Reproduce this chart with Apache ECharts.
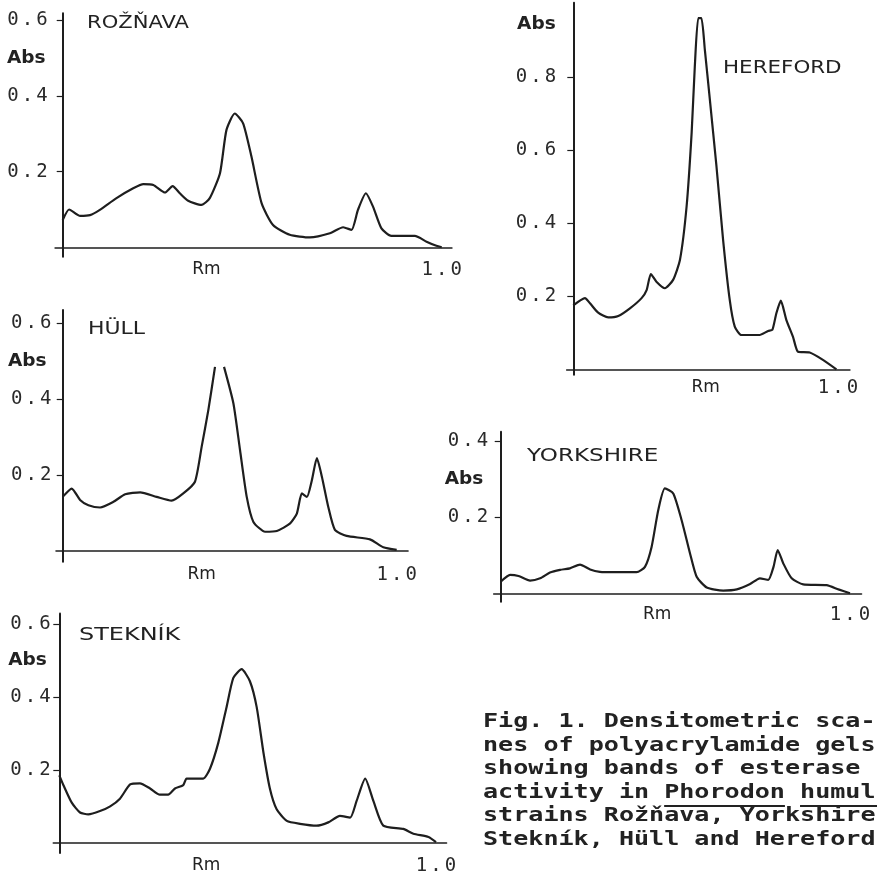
<!DOCTYPE html>
<html>
<head>
<meta charset="utf-8">
<script src="https://cdn.jsdelivr.net/npm/echarts@6/dist/echarts.min.js"></script>
<style>html,body{margin:0;padding:0;background:#fff}#c{width:877px;height:876px}</style>
</head>
<body>
<div id="c"></div>
<script>
// ---- data (Rm, Abs) ----
const strainNames = ['ROŽŇAVA', 'HÜLL', 'STEKNÍK', 'HEREFORD', 'YORKSHIRE'];

const rozRm = [0, 0.017, 0.046, 0.072, 0.098, 0.142, 0.186, 0.213, 0.239, 0.270, 0.290, 0.309, 0.331, 0.366, 0.388, 0.415, 0.432, 0.454, 0.476, 0.498, 0.525, 0.555, 0.599, 0.652, 0.705, 0.740, 0.762, 0.779, 0.800, 0.819, 0.841, 0.867, 0.929, 0.960, 0.986, 1.0];
const rozAbs = [0.072, 0.100, 0.083, 0.085, 0.099, 0.130, 0.156, 0.167, 0.165, 0.145, 0.162, 0.143, 0.123, 0.112, 0.130, 0.196, 0.310, 0.354, 0.328, 0.240, 0.116, 0.059, 0.033, 0.026, 0.037, 0.053, 0.046, 0.099, 0.143, 0.107, 0.050, 0.030, 0.030, 0.015, 0.004, 0.0];

const hullRm = [0, 0.027, 0.052, 0.077, 0.112, 0.152, 0.187, 0.232, 0.281, 0.326, 0.361, 0.396, 0.416, 0.436, 0.456, 0.470, 0.483, 0.511, 0.531, 0.551, 0.571, 0.606, 0.641, 0.681, 0.701, 0.716, 0.731, 0.746, 0.761, 0.776, 0.795, 0.815, 0.850, 0.920, 0.960, 1.0];
const hullAbs = [0.142, 0.164, 0.134, 0.120, 0.114, 0.129, 0.149, 0.154, 0.142, 0.132, 0.151, 0.182, 0.274, 0.371, 0.485, null, 0.485, 0.389, 0.265, 0.142, 0.076, 0.050, 0.052, 0.072, 0.098, 0.151, 0.142, 0.186, 0.244, 0.195, 0.116, 0.055, 0.039, 0.030, 0.009, 0.002];

const stekRm = [0, 0.011, 0.033, 0.055, 0.077, 0.108, 0.135, 0.161, 0.188, 0.214, 0.241, 0.267, 0.289, 0.307, 0.329, 0.338, 0.382, 0.400, 0.422, 0.444, 0.462, 0.484, 0.506, 0.524, 0.542, 0.559, 0.577, 0.604, 0.639, 0.683, 0.714, 0.745, 0.772, 0.789, 0.812, 0.834, 0.860, 0.913, 0.940, 0.980, 1.0];
const stekAbs = [0.185, 0.158, 0.110, 0.083, 0.078, 0.087, 0.100, 0.121, 0.160, 0.163, 0.149, 0.132, 0.132, 0.149, 0.158, 0.176, 0.176, 0.203, 0.274, 0.372, 0.452, 0.476, 0.443, 0.372, 0.247, 0.149, 0.092, 0.060, 0.052, 0.047, 0.056, 0.074, 0.069, 0.114, 0.176, 0.114, 0.047, 0.038, 0.025, 0.016, 0.002];

const herRm = [0, 0.044, 0.063, 0.094, 0.132, 0.170, 0.214, 0.258, 0.277, 0.293, 0.314, 0.346, 0.377, 0.403, 0.428, 0.447, 0.459, 0.472, 0.484, 0.497, 0.516, 0.541, 0.566, 0.591, 0.610, 0.635, 0.679, 0.704, 0.736, 0.752, 0.767, 0.784, 0.805, 0.830, 0.849, 0.893, 0.943, 0.994];
const herAbs = [0.175, 0.195, 0.181, 0.155, 0.142, 0.146, 0.167, 0.195, 0.217, 0.261, 0.240, 0.222, 0.245, 0.300, 0.446, 0.647, 0.829, 0.962, 0.962, 0.875, 0.738, 0.555, 0.354, 0.190, 0.117, 0.094, 0.094, 0.094, 0.105, 0.108, 0.153, 0.188, 0.135, 0.089, 0.048, 0.046, 0.026, 0.0];

const yorkRm = [0, 0.027, 0.051, 0.084, 0.113, 0.141, 0.170, 0.198, 0.227, 0.256, 0.284, 0.323, 0.389, 0.413, 0.432, 0.451, 0.470, 0.494, 0.518, 0.542, 0.561, 0.590, 0.637, 0.676, 0.714, 0.742, 0.766, 0.781, 0.793, 0.809, 0.833, 0.866, 0.933, 0.967, 1.0];
const yorkAbs = [0.032, 0.050, 0.047, 0.035, 0.041, 0.056, 0.063, 0.067, 0.077, 0.064, 0.058, 0.057, 0.057, 0.071, 0.123, 0.219, 0.276, 0.263, 0.193, 0.106, 0.045, 0.017, 0.009, 0.012, 0.026, 0.041, 0.037, 0.071, 0.115, 0.080, 0.041, 0.025, 0.023, 0.012, 0.002];

// tick labels
const yTicks = [[0.2, 0.4, 0.6], [0.2, 0.4, 0.6], [0.2, 0.4, 0.6], [0.2, 0.4, 0.6, 0.8], [0.2, 0.4]];
const absLabelAt = [0.5, 0.5, 0.5, 0.945, 0.3];
const rmLabelAt = [0.379, 0.416, 0.39, 0.5, 0.448];
const xEndLabel = 1.0;

const captionLines = [
  'Fig. 1. Densitometric sca-',
  'nes of polyacrylamide gels',
  'showing bands of esterase',
  'activity in Phorodon humuli',
  'strains Rožňava, Yorkshire,',
  'Stekník, Hüll and Hereford.'
];

// ---- layout (pixels) ----
const panels = [
  {ox: 62.7, oy: 247.3, sx: 379, sy: 378, xmin: -0.02, xmax: 1.027, ymin: -0.025, ymax: 0.619, tx: 87, ty: 14, ts: 1.17, lm: 6, ap: 3.5},
  {ox: 62.7, oy: 550.7, sx: 334, sy: 379, xmin: -0.02, xmax: 1.034, ymin: -0.029, ymax: 0.635, tx: 88, ty: 320, ts: 1.22, lm: 3, ap: 6.5},
  {ox: 59.3, oy: 849.3, sx: 376.7, sy: 375, xmin: -0.016, xmax: 1.028, ymin: -0.028, ymax: 0.629, tx: 79, ty: 626, ts: 1.33, lm: 1, ap: 5.5},
  {ox: 573.3, oy: 369.3, sx: 264.7, sy: 365, xmin: -0.025, xmax: 1.045, ymin: -0.015, ymax: 1.004, tx: 723, ty: 59, ts: 1.19, lm: 9, ap: 2},
  {ox: 500.7, oy: 594, sx: 349.3, sy: 382.5, xmin: -0.02, xmax: 1.033, ymin: -0.02, ymax: 0.424, tx: 527, ty: 447, ts: 1.28, lm: 4, ap: 6.5}
];
const seriesData = [[rozRm, rozAbs], [hullRm, hullAbs], [stekRm, stekAbs], [herRm, herAbs], [yorkRm, yorkAbs]];

const INK = '#1e1e1e';
const MONO = '"DejaVu Sans Mono", "Liberation Mono", monospace';
const SANS = '"DejaVu Sans", "Liberation Sans", sans-serif';

// typewriter-like wide pitch for the numeric tick labels
const spaced = s => s.split('').map(c => '{d|' + c + '}').join('');
const digitRich = {d: {fontFamily: MONO, fontSize: 19, color: '#2a2a2a', width: 14.5, align: 'center'}};

const grids = [], xAxes = [], yAxes = [], series = [], graphics = [];

panels.forEach((p, i) => {
  grids.push({
    left: p.ox + p.xmin * p.sx,
    width: (p.xmax - p.xmin) * p.sx,
    top: p.oy - p.ymax * p.sy,
    height: (p.ymax - p.ymin) * p.sy
  });
  const rmv = rmLabelAt[i];
  xAxes.push({
    type: 'value', gridIndex: i, min: p.xmin, max: p.xmax,
    axisLine: {onZero: true, lineStyle: {color: INK, width: 1.6}},
    axisTick: {show: false},
    splitLine: {show: false},
    axisLabel: {
      customValues: [rmv, xEndLabel],
      margin: 4,
      formatter: v => Math.abs(v - xEndLabel) < 1e-6 ? spaced('1.0') : '{rm|Rm}',
      rich: Object.assign({rm: {fontFamily: SANS, fontSize: 17, color: '#222'}}, digitRich)
    }
  });
  const av = absLabelAt[i];
  yAxes.push({
    type: 'value', gridIndex: i, min: p.ymin, max: p.ymax,
    axisLine: {onZero: true, lineStyle: {color: INK, width: 2}},
    axisTick: {customValues: yTicks[i], length: 6, lineStyle: {color: INK, width: 1.2}},
    splitLine: {show: false},
    axisLabel: {
      customValues: yTicks[i].concat([av]),
      margin: p.lm,
      formatter: v => Math.abs(v - av) < 1e-6 ? '{abs|Abs}' : spaced(v.toFixed(1)),
      rich: Object.assign({abs: {fontFamily: SANS, fontSize: 18.5, fontWeight: 'bold', color: '#222', padding: [0, p.ap, 0, 0]}}, digitRich)
    }
  });
  const xs = seriesData[i][0], ys = seriesData[i][1];
  series.push({
    type: 'line', xAxisIndex: i, yAxisIndex: i,
    data: xs.map((x, k) => [x, ys[k]]),
    showSymbol: false, smooth: 0.2, connectNulls: false,
    lineStyle: {color: INK, width: 2.2},
    silent: true, animation: false
  });
  graphics.push({
    type: 'text', x: p.tx, y: p.ty, scaleX: p.ts,
    style: {text: strainNames[i], fontFamily: SANS, fontSize: 18, fill: '#222', verticalAlign: 'top'}
  });
});

// caption
const capX = 483, capFs = 19.5, capScale = 1.286, capLine = 23.5, capBase0 = 729;
const charW = 0.602 * capFs * capScale;
captionLines.forEach((t, k) => {
  graphics.push({
    type: 'text', x: capX, y: capBase0 + k * capLine - 0.36 * capFs, scaleX: capScale,
    style: {text: t, fontFamily: MONO, fontSize: capFs, fontWeight: 'bold', fill: '#222', verticalAlign: 'middle'}
  });
});
// underline the species name (Phorodon humuli) in line 4
const ul = captionLines[3];
const uy = capBase0 + 3 * capLine + 6.5;
[['Phorodon', 8], ['humuli', 6]].forEach(([w, n]) => {
  const col = ul.indexOf(w);
  graphics.push({
    type: 'line',
    shape: {x1: capX + col * charW, y1: uy, x2: capX + (col + n) * charW, y2: uy},
    style: {stroke: '#222', lineWidth: 2}
  });
});

const chart = echarts.init(document.getElementById('c'), null, {renderer: 'canvas'});
chart.setOption({
  backgroundColor: '#fff',
  animation: false,
  grid: grids,
  xAxis: xAxes,
  yAxis: yAxes,
  series: series,
  graphic: graphics
});
</script>
</body>
</html>
